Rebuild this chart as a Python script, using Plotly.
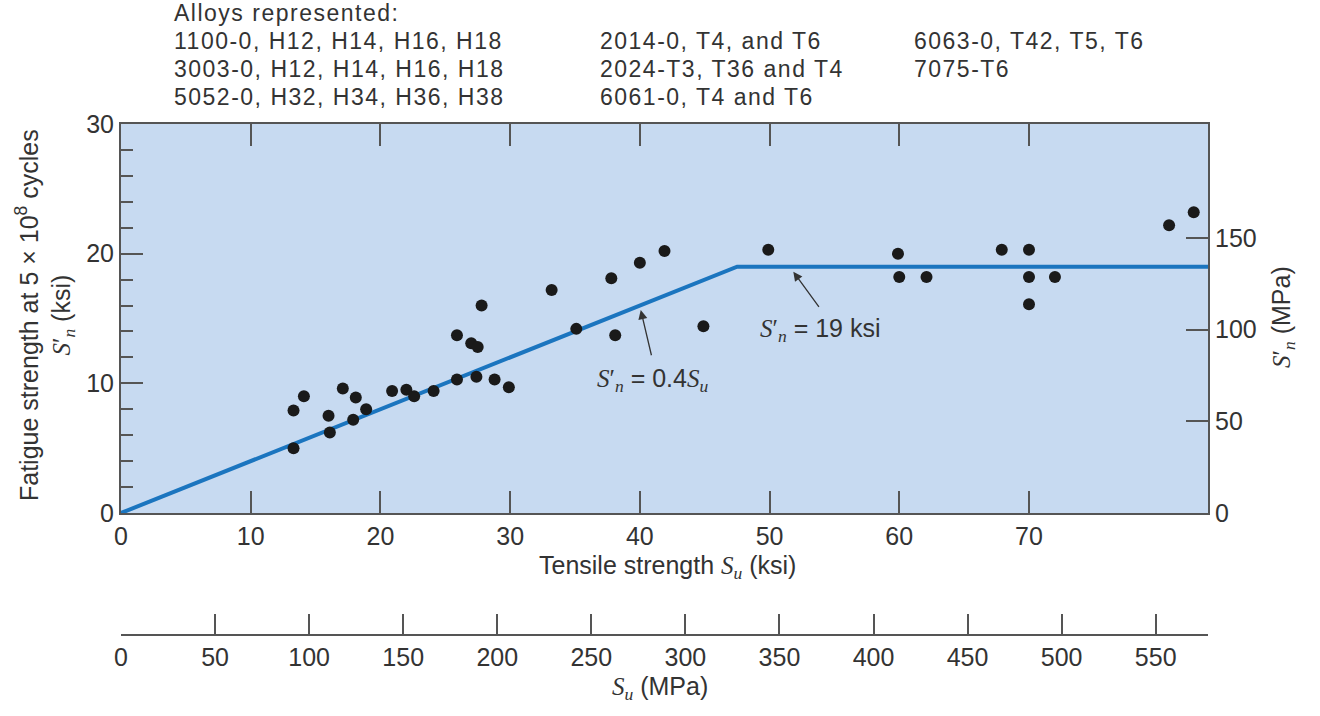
import plotly.graph_objects as go

# ---------------- data ----------------
su_ksi = [13.3, 14.1, 13.3, 16.0, 16.1, 17.1, 18.1, 17.9, 18.9, 20.9,
          22.0, 22.6, 24.1, 25.9, 25.9, 27.0, 27.5, 27.4, 27.8, 28.8,
          29.9, 33.2, 35.1, 37.8, 38.1, 40.0, 41.9, 44.9, 49.9, 59.9,
          60.0, 62.1, 67.9, 70.0, 70.0, 70.0, 72.0, 80.8, 82.7]
sn_ksi = [7.9, 9.0, 5.0, 7.5, 6.2, 9.6, 8.9, 7.2, 8.0, 9.4,
          9.5, 9.0, 9.4, 13.7, 10.3, 13.1, 12.8, 10.5, 16.0, 10.3,
          9.7, 17.2, 14.2, 18.1, 13.7, 19.3, 20.2, 14.4, 20.3, 20.0,
          18.2, 18.2, 20.3, 20.3, 18.2, 16.1, 18.2, 22.2, 23.2]

design_su = [0, 47.5, 83.8]
design_sn = [0, 19, 19]

x_ticks_ksi = [0, 10, 20, 30, 40, 50, 60, 70]
y_ticks_ksi = [0, 10, 20, 30]
y2_ticks_mpa = [0, 50, 100, 150]
x2_ticks_mpa = [0, 50, 100, 150, 200, 250, 300, 350, 400, 450, 500, 550]

header_col1 = ["Alloys represented:", "1100-0, H12, H14, H16, H18",
               "3003-0, H12, H14, H16, H18", "5052-0, H32, H34, H36, H38"]
header_col2 = ["2014-0, T4, and T6", "2024-T3, T36 and T4", "6061-0, T4 and T6"]
header_col3 = ["6063-0, T42, T5, T6", "7075-T6"]

KSI_TO_MPA = 6.895
X_MAX = 83.8
Y2_MAX = 212

# ---------------- styling ----------------
W, H = 1320, 716
ML, MR, MT, MB = 121, 112, 124, 82
PW = W - ML - MR
PH = H - MT - MB
FONT = "Liberation Sans, Arial, sans-serif"
TXT = "#333333"
AX = "#555555"
BG = "#C7DAF1"
LINE = "#1B75BF"
SERIF = 'font-family:Liberation Serif, Times New Roman, serif'


def px2x(px):
    return (px - ML) / PW


def py2y(py):
    return (H - MB - py) / PH


main_bottom = py2y(513)

S_n = f'<span style="{SERIF}"><i>S</i>′<sub><i>n</i></sub></span>'
S_u = f'<span style="{SERIF}"><i>S<sub>u</sub></i></span>'

fig = go.Figure()

fig.add_trace(go.Scatter(
    x=design_su, y=design_sn, mode="lines",
    line=dict(color=LINE, width=4), showlegend=False, hoverinfo="skip"))

fig.add_trace(go.Scatter(
    x=su_ksi, y=sn_ksi, mode="markers",
    marker=dict(color="#1a1a1a", size=12, line=dict(width=0)),
    showlegend=False))

# helper traces so that secondary axes exist
fig.add_trace(go.Scatter(x=[0] * len(y2_ticks_mpa), y=y2_ticks_mpa, xaxis="x", yaxis="y2",
                         mode="markers", marker=dict(opacity=0), showlegend=False,
                         hoverinfo="skip"))
fig.add_trace(go.Scatter(x=x2_ticks_mpa, y=[0] * len(x2_ticks_mpa), xaxis="x2", yaxis="y3",
                         mode="markers", marker=dict(opacity=0), showlegend=False,
                         hoverinfo="skip"))

tickfont = dict(family=FONT, size=25, color=TXT)

fig.update_layout(
    width=W, height=H,
    margin=dict(l=ML, r=MR, t=MT, b=MB, pad=0),
    paper_bgcolor="white",
    plot_bgcolor="white",
    font=dict(family=FONT, size=25, color=TXT),
    xaxis=dict(
        domain=[0, 1], range=[0, X_MAX], anchor="y",
        tickmode="array", tickvals=x_ticks_ksi,
        ticks="inside", ticklen=22, tickwidth=1.5, tickcolor=AX,
        showline=True, linecolor=AX, linewidth=2, mirror="ticks",
        showgrid=False, zeroline=False, tickfont=tickfont,
    ),
    yaxis=dict(
        domain=[main_bottom, 1], range=[0, 30], anchor="x",
        tickmode="array", tickvals=y_ticks_ksi,
        ticks="inside", ticklen=22, tickwidth=1.5, tickcolor=AX,
        minor=dict(ticks="inside", ticklen=12, tickwidth=1.5, tickcolor=AX,
                   dtick=2, tick0=0, showgrid=False),
        showline=True, linecolor=AX, linewidth=2, mirror=True,
        showgrid=False, zeroline=False, tickfont=tickfont,
    ),
    yaxis2=dict(
        overlaying="y", side="right", anchor="x", range=[0, Y2_MAX],
        tickmode="array", tickvals=y2_ticks_mpa,
        ticks="inside", ticklen=22, tickwidth=1.5, tickcolor=AX,
        showline=True, linecolor=AX, linewidth=2,
        showgrid=False, zeroline=False, tickfont=tickfont,
    ),
    xaxis2=dict(
        domain=[0, 1], anchor="y3", range=[0, X_MAX * KSI_TO_MPA],
        tickmode="array", tickvals=x2_ticks_mpa,
        ticks="inside", ticklen=20, tickwidth=1.5, tickcolor=AX,
        showline=True, linecolor=AX, linewidth=2,
        showgrid=False, zeroline=False, tickfont=tickfont,
    ),
    yaxis3=dict(domain=[0, 0.05], anchor="x2", visible=False, range=[0, 1]),
    shapes=[dict(type="rect", xref="x domain", yref="y domain", x0=0, x1=1, y0=0, y1=1,
                 fillcolor=BG, line=dict(width=0), layer="below")],
)

ann = []
# header
LS = 'letter-spacing:1.5px'
hfont = dict(family=FONT, size=23, color=TXT)
row_y = [13, 41, 69, 97]


def hdr(t):
    return f'<span style="{LS}">{t}</span>'


for i, t in enumerate(header_col1):
    ann.append(dict(text=hdr(t), x=px2x(172), y=py2y(row_y[i]), xref="paper", yref="paper",
                    xanchor="left", yanchor="middle", showarrow=False, font=hfont))
for i, t in enumerate(header_col2):
    ann.append(dict(text=hdr(t), x=px2x(598), y=py2y(row_y[i + 1]), xref="paper", yref="paper",
                    xanchor="left", yanchor="middle", showarrow=False, font=hfont))
for i, t in enumerate(header_col3):
    ann.append(dict(text=hdr(t), x=px2x(912), y=py2y(row_y[i + 1]), xref="paper", yref="paper",
                    xanchor="left", yanchor="middle", showarrow=False, font=hfont))

# axis titles
ann.append(dict(text=f"Fatigue strength at 5 × 10<sup>8</sup> cycles<br>{S_n} (ksi)",
                x=px2x(45), y=py2y(315), xref="paper", yref="paper", textangle=-90,
                xanchor="center", yanchor="middle", showarrow=False,
                font=dict(family=FONT, size=25, color=TXT)))
ann.append(dict(text=f"{S_n} (MPa)",
                x=px2x(1283), y=py2y(317), xref="paper", yref="paper", textangle=-90,
                xanchor="center", yanchor="middle", showarrow=False,
                font=dict(family=FONT, size=25, color=TXT)))
ann.append(dict(text=f"Tensile strength {S_u} (ksi)",
                x=px2x(667), y=py2y(567), xref="paper", yref="paper",
                xanchor="center", yanchor="middle", showarrow=False,
                font=dict(family=FONT, size=25, color=TXT)))
ann.append(dict(text=f"{S_u} (MPa)",
                x=px2x(660), y=py2y(688), xref="paper", yref="paper",
                xanchor="center", yanchor="middle", showarrow=False,
                font=dict(family=FONT, size=25, color=TXT)))

# equation labels and arrows
ann.append(dict(x=40.07, y=15.65, ax=40.92, ay=12.05, xref="x", yref="y",
                axref="x", ayref="y", text="", showarrow=True, arrowhead=2,
                arrowsize=1.4, arrowwidth=1.3, arrowcolor="#333333"))
ann.append(dict(x=51.83, y=18.60, ax=53.89, ay=15.78, xref="x", yref="y",
                axref="x", ayref="y", text="", showarrow=True, arrowhead=2,
                arrowsize=1.4, arrowwidth=1.3, arrowcolor="#333333"))
ann.append(dict(text=f"{S_n} = 0.4{S_u}", x=41.0, y=10.25, xref="x", yref="y",
                xanchor="center", yanchor="middle", showarrow=False,
                font=dict(family=FONT, size=25, color=TXT)))
ann.append(dict(text=f"{S_n} = 19 ksi", x=53.9, y=14.1, xref="x", yref="y",
                xanchor="center", yanchor="middle", showarrow=False,
                font=dict(family=FONT, size=25, color=TXT)))

fig.update_layout(annotations=ann)

fig.write_html("out.html", config={"displayModeBar": False},
               post_script="document.body.style.margin='0';")
